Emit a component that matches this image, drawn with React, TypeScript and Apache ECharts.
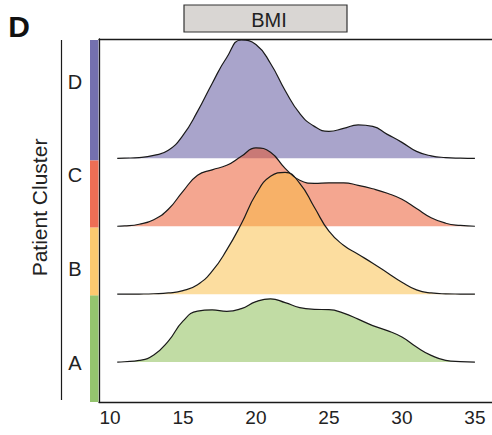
import React, { useEffect, useRef } from 'react';
import * as echarts from 'echarts';

// BMI grid on which the kernel densities were evaluated
const BMI = [10.5, 11, 12, 13, 14, 15, 16, 17, 18, 19, 20, 21, 22, 23, 24, 25, 26, 27, 28, 29, 30, 31, 32, 33, 34, 35];

const CLUSTERS = ['A', 'B', 'C', 'D'];

// Scaled density of BMI per patient cluster
const densityA = [0, 0.3, 1.6, 7, 21, 41, 51, 52.3, 50.7, 53.5, 60.5, 63.3, 59.5, 54.5, 52.8, 52.5, 49, 43, 36.5, 31.5, 25, 15, 6.7, 1.7, 0.4, 0];
const densityB = [0, 0, 0.1, 0.4, 1.2, 3.5, 9.5, 23, 44.3, 70.5, 100, 118, 122, 111, 87, 63, 49, 40, 31, 21.5, 12, 4.3, 1.2, 0.3, 0.1, 0];
const densityC = [0, 0.3, 2, 6.5, 17, 35, 51, 56.5, 61, 70, 78.5, 74, 58, 46, 43, 43.5, 43.5, 41, 37.5, 33, 27, 17.7, 8.5, 3, 0.8, 0];
const densityD = [0, 0.2, 0.8, 3, 8, 23, 47, 75, 101, 118.5, 114, 95, 68, 45, 32, 27, 30, 33.5, 32, 24, 16, 7, 2.5, 0.8, 0.2, 0];

const X_TICKS = [10, 15, 20, 25, 30, 35];

// Ridge fills (drawn at half opacity) and the solid cluster strip colours
const FILL_COLORS = ['#83b949', '#f9bb3f', '#e94d21', '#534997'];
const STRIP_COLORS = ['#94c46e', '#fcc96f', '#ee6e55', '#7470ae'];

const RIDGE_SPACING = 68;
const X_MIN = 9.25;
const X_MAX = 36.17;
const FONT = 'Liberation Sans, Arial, Helvetica, sans-serif';

export default function App() {
  const ref = useRef<HTMLDivElement>(null);

  useEffect(() => {
    if (!ref.current) return;
    const chart = echarts.init(ref.current, null, { renderer: 'svg' });
    const densities = [densityA, densityB, densityC, densityD];

    // Top ridge first so the lower ridges overlap it
    const series = [3, 2, 1, 0].map((i) => ({
      type: 'line',
      name: CLUSTERS[i],
      xAxisIndex: 0,
      data: BMI.map((x, k) => [x, i * RIDGE_SPACING + densities[i][k]]),
      smooth: 0.5,
      symbol: 'none',
      showSymbol: false,
      silent: true,
      lineStyle: { color: '#1a1a1a', width: 1.2 },
      areaStyle: { color: FILL_COLORS[i], opacity: 0.5, origin: i * RIDGE_SPACING },
    }));

    const gridTop = 39;
    const gridBottomPx = 402;
    const frameLine = { show: true, onZero: false, lineStyle: { color: '#1a1a1a', width: 1.3 } };

    chart.setOption({
      animation: false,
      grid: {
        left: 99,
        top: gridTop,
        right: 0,
        bottom: 435 - gridBottomPx,
      },
      xAxis: [
        {
          type: 'value',
          position: 'bottom',
          min: X_MIN,
          max: X_MAX,
          axisLine: frameLine,
          axisTick: { show: false },
          splitLine: { show: false },
          axisLabel: {
            customValues: X_TICKS,
            fontSize: 19,
            fontFamily: FONT,
            color: '#222',
            margin: 6,
          },
        },
        {
          // top frame of the panel
          type: 'value',
          position: 'top',
          min: X_MIN,
          max: X_MAX,
          axisLine: frameLine,
          axisTick: { show: false },
          axisLabel: { show: false },
          splitLine: { show: false },
        },
      ],
      yAxis: {
        type: 'value',
        min: -40,
        max: 3 * RIDGE_SPACING + 119.5,
        axisLine: frameLine,
        axisTick: { show: false },
        axisLabel: { show: false },
        splitLine: { show: false },
      },
      series,
    });

    const yPix = (v: number) => chart.convertToPixel({ yAxisIndex: 0 }, v) as number;
    const bounds = [
      gridBottomPx,
      yPix(RIDGE_SPACING) + 1.2,
      yPix(2 * RIDGE_SPACING) + 1.2,
      yPix(3 * RIDGE_SPACING) + 2,
      gridTop + 1,
    ];

    const strip = CLUSTERS.map((_, i) => ({
      type: 'rect',
      shape: { x: 90, y: bounds[i + 1], width: 8.5, height: bounds[i] - bounds[i + 1] },
      style: { fill: STRIP_COLORS[i] },
      silent: true,
    }));

    const letterY = [362.5, 268.5, 175, 81.5];
    const letters = CLUSTERS.map((c, i) => ({
      type: 'text',
      x: 75,
      y: letterY[i],
      style: {
        text: c,
        fill: '#222',
        font: `20px ${FONT}`,
        textAlign: 'center',
        textVerticalAlign: 'middle',
      },
      silent: true,
    }));

    chart.setOption({
      graphic: [
        ...strip,
        ...letters,
        {
          type: 'line',
          shape: { x1: 61.5, y1: 40, x2: 61.5, y2: 400 },
          style: { stroke: '#1a1a1a', lineWidth: 1.2 },
          silent: true,
        },
        {
          type: 'text',
          x: 39.5,
          y: 207.5,
          rotation: Math.PI / 2,
          style: {
            text: 'Patient Cluster',
            fill: '#222',
            font: `21px ${FONT}`,
            textAlign: 'center',
            textVerticalAlign: 'middle',
          },
          silent: true,
        },
        {
          type: 'rect',
          shape: { x: 184, y: 5, width: 163, height: 27 },
          style: { fill: '#d9d6d3', stroke: '#333', lineWidth: 1.2 },
          silent: true,
        },
        {
          type: 'text',
          x: 269,
          y: 20,
          style: {
            text: 'BMI',
            fill: '#222',
            font: `20px ${FONT}`,
            textAlign: 'center',
            textVerticalAlign: 'middle',
          },
          silent: true,
        },
        {
          type: 'text',
          x: 19,
          y: 26,
          style: {
            text: 'D',
            fill: '#111',
            font: `bold 30px ${FONT}`,
            textAlign: 'center',
            textVerticalAlign: 'middle',
          },
          silent: true,
        },
      ],
    });

    return () => chart.dispose();
  }, []);

  return (
    <div
      ref={ref}
      style={{ position: 'absolute', left: 0, top: 0, width: 492, height: 435, background: '#fff' }}
    />
  );
}
